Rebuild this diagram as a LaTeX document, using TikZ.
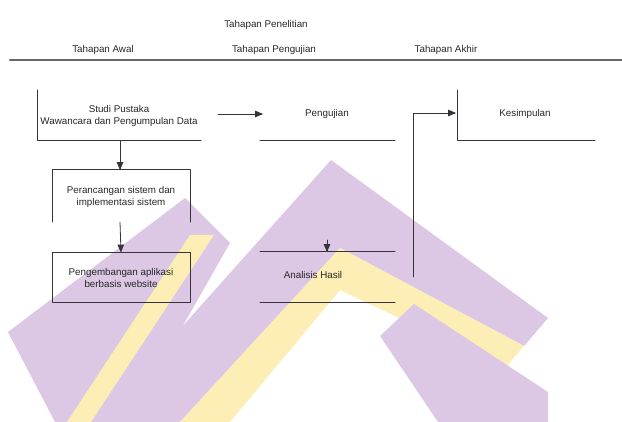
\documentclass[tikz,border=0pt]{standalone}
\usepackage{fontspec}
\setmainfont{Liberation Sans}
\usetikzlibrary{arrows}
\definecolor{ungu}{RGB}{220,200,228}
\definecolor{kuning}{RGB}{252,238,180}
\definecolor{garis}{RGB}{55,50,60}
\tikzset{
  teks/.style={align=center,inner sep=1pt,text=black!85},
  tepi/.style={draw=garis,line width=1pt},
  panah/.style={->,draw=garis,line width=0.8pt}
}

\begin{document}
\begin{tikzpicture}[x=1pt,y=-1pt,line cap=round,line join=round,>=triangle 45,font=\fontsize{9.8}{11.5}\selectfont]
    \useasboundingbox (0,0) rectangle (622,422);
    % latar logo
    \fill[ungu] (185,198) -- (230,243) -- (128,422) -- (55,422) -- (8,332) -- cycle;
    \fill[kuning] (190,235) -- (214,235) -- (91,422) -- (67,422) -- cycle;
    \fill[ungu] (97,422) -- (331,160) -- (548,318) -- (524,346) -- (340,248) -- (180,422) -- cycle;
    \fill[kuning] (180,422) -- (340,248) -- (524,346) -- (505,368) -- (340,290) -- (230,422) -- cycle;
    \fill[ungu] (380,336) -- (414,304) -- (548,392) -- (548,422) -- (438,422) -- cycle;
    % judul
    \node[teks] (judul) at (266,25) {Tahapan Penelitian};
    \node[teks] (awal) at (103,50) {Tahapan Awal};
    \node[teks] (uji) at (274,50) {Tahapan Pengujian};
    \node[teks] (akhir) at (446,50) {Tahapan Akhir};
    \draw[gray!80!black,line width=2.2pt] (10,60) -- (622,60);
    % tahapan awal
    \node[teks] (studi) at (119,116) {Studi Pustaka\\Wawancara dan Pengumpulan Data};
    \draw[tepi] (37,90) -- (37,141) -- (201,141);
    \node[teks] (rancang) at (121,197) {Perancangan sistem dan\\implementasi sistem};
    \draw[tepi] (52,222) -- (52,170) -- (190,170) -- (190,222);
    \node[teks,tepi,minimum width=138pt,minimum height=50pt] (kembang) at (121,278) {Pengembangan aplikasi\\berbasis website};
    \coordinate (s1) at (120,141);
    \coordinate (r1) at (120,170);
    \coordinate (r2) at (120,222);
    \draw[panah] (s1) -- (r1);
    \draw[panah] (r2) -- (kembang.north);
    % tahapan pengujian
    \node[teks] (pengujian) at (327,114) {Pengujian};
    \draw[tepi] (260,141) -- (395,141);
    \coordinate (s2) at (218,114);
    \coordinate (p1) at (263,114);
    \draw[panah] (s2) -- (p1);
    \node[teks] (analisis) at (313,275) {Analisis Hasil};
    \draw[tepi] (260,252) -- (395,252);
    \draw[tepi] (260,303) -- (395,303);
    \coordinate (a0) at (327,240);
    \coordinate (a1) at (327,252);
    \draw[panah] (a0) -- (a1);
    % tahapan akhir
    \node[teks] (simpulan) at (525,114) {Kesimpulan};
    \draw[tepi] (457,90) -- (457,141) -- (595,141);
    \coordinate (e0) at (413,277);
    \coordinate (e1) at (456,113);
    \draw[panah] (e0) |- (e1);
\end{tikzpicture}
\end{document}
